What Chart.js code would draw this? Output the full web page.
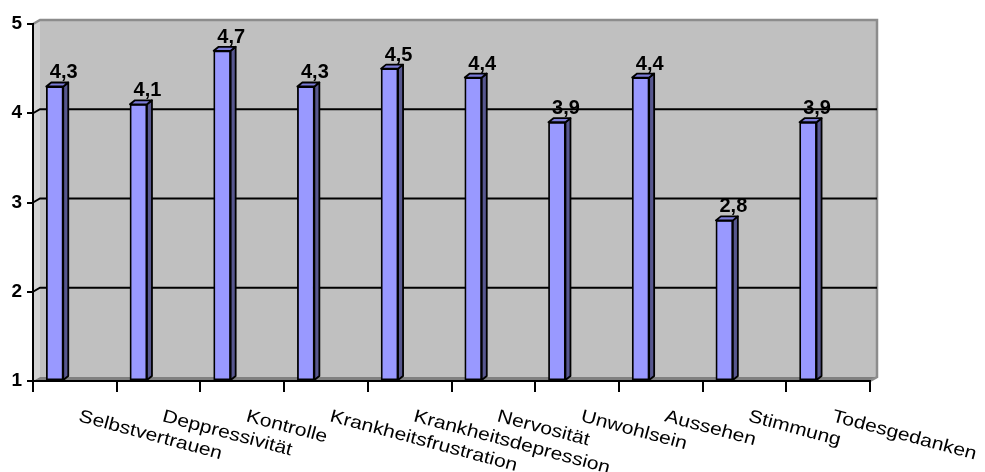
<!DOCTYPE html>
<html><head><meta charset="utf-8">
<script src="https://cdn.jsdelivr.net/npm/chart.js@4/dist/chart.umd.min.js"></script>
<style>html,body{margin:0;padding:0;background:#fff;}#wrap{width:985px;height:472px;position:relative;}</style>
</head><body><div id="wrap"><canvas id="c" width="985" height="472"></canvas></div>
<script>
const categories = ['Selbstvertrauen','Deppressivität','Kontrolle','Krankheitsfrustration','Krankheitsdepression','Nervosität','Unwohlsein','Aussehen','Stimmung','Todesgedanken'];
const values = [4.3, 4.1, 4.7, 4.3, 4.5, 4.4, 3.9, 4.4, 2.8, 3.9];
const yTicks = [1, 2, 3, 4, 5];

const FONT = "Arial, 'Liberation Sans', sans-serif";
const WALL = {dx: 7, dy: -4};
const DEPTH = {dx: 5, dy: -4};

const wallPlugin = {
  id: 'wall',
  beforeDraw(chart) {
    const {ctx, chartArea: a, scales: {y}} = chart;
    const L = a.left, R = a.right, T = a.top, B = a.bottom;
    ctx.save();
    ctx.fillStyle = '#c0c0c0';
    ctx.fillRect(L + WALL.dx, T + WALL.dy, R - L, B - T);
    ctx.fillStyle = '#d2d2d2';
    ctx.beginPath();
    ctx.moveTo(L, T); ctx.lineTo(L + WALL.dx, T + WALL.dy);
    ctx.lineTo(L + WALL.dx, B + WALL.dy); ctx.lineTo(L, B); ctx.closePath(); ctx.fill();
    ctx.fillStyle = '#808080';
    ctx.beginPath();
    ctx.moveTo(L, B); ctx.lineTo(L + WALL.dx, B + WALL.dy);
    ctx.lineTo(R + WALL.dx, B + WALL.dy); ctx.lineTo(R, B); ctx.closePath(); ctx.fill();
    ctx.strokeStyle = '#8c8c8c'; ctx.lineWidth = 2.5;
    ctx.beginPath();
    ctx.moveTo(L, T); ctx.lineTo(L + WALL.dx, T + WALL.dy);
    ctx.lineTo(R + WALL.dx, T + WALL.dy); ctx.lineTo(R + WALL.dx, B + WALL.dy);
    ctx.lineTo(R, B);
    ctx.stroke();
    ctx.strokeStyle = '#000'; ctx.lineWidth = 2;
    yTicks.forEach(v => {
      if (v === yTicks[0] || v === yTicks[yTicks.length - 1]) return;
      const py = y.getPixelForValue(v);
      ctx.beginPath();
      ctx.moveTo(L, py); ctx.lineTo(L + WALL.dx, py + WALL.dy);
      ctx.lineTo(R + WALL.dx, py + WALL.dy);
      ctx.stroke();
    });
    ctx.restore();
  }
};

const shiftPlugin = {
  id: 'shift',
  afterDatasetsUpdate(chart) {
    const xs = chart.scales.x;
    const slot = (xs.right - xs.left) / categories.length;
    chart.getDatasetMeta(0).data.forEach(el => { el.x -= 0.24 * slot; });
  }
};

const bar3dPlugin = {
  id: 'bar3d',
  afterDatasetsDraw(chart) {
    const ctx = chart.ctx;
    ctx.save();
    ctx.lineWidth = 1.8; ctx.strokeStyle = '#000'; ctx.lineJoin = 'round';
    chart.getDatasetMeta(0).data.forEach((el, i) => {
      const l = el.x - el.width / 2, r = el.x + el.width / 2, t = el.y, b = el.base;
      ctx.fillStyle = '#57578f';
      ctx.beginPath();
      ctx.moveTo(r, t); ctx.lineTo(r + DEPTH.dx, t + DEPTH.dy);
      ctx.lineTo(r + DEPTH.dx, b + DEPTH.dy); ctx.lineTo(r, b); ctx.closePath();
      ctx.fill(); ctx.stroke();
      ctx.fillStyle = '#7b7bd8';
      ctx.beginPath();
      ctx.moveTo(l, t); ctx.lineTo(l + DEPTH.dx, t + DEPTH.dy);
      ctx.lineTo(r + DEPTH.dx, t + DEPTH.dy); ctx.lineTo(r, t); ctx.closePath();
      ctx.fill(); ctx.stroke();
      ctx.fillStyle = '#000';
      ctx.font = 'bold 20px ' + FONT;
      ctx.textAlign = 'center'; ctx.textBaseline = 'alphabetic';
      ctx.fillText(String(values[i]).replace('.', ','), el.x + 9, t - 8);
    });
    ctx.restore();
  }
};

const xLabelPlugin = {
  id: 'xlabels',
  afterDraw(chart) {
    const {ctx, scales: {x}, chartArea: a} = chart;
    ctx.save();
    ctx.fillStyle = '#000';
    ctx.font = '18px ' + FONT;
    ctx.textAlign = 'left'; ctx.textBaseline = 'alphabetic';
    categories.forEach((c, i) => {
      const px = x.getPixelForValue(i);
      ctx.save();
      ctx.translate(px + 3, a.bottom + 40);
      ctx.rotate(15 * Math.PI / 180);
      ctx.scale(1.17, 1);
      ctx.fillText(c, 0, 0);
      ctx.restore();
    });
    ctx.restore();
  }
};

new Chart(document.getElementById('c'), {
  type: 'bar',
  data: {
    labels: categories,
    datasets: [{
      data: values,
      base: 1,
      backgroundColor: '#9999ff',
      borderColor: '#000',
      borderWidth: 1.8,
      borderSkipped: false,
      barThickness: 17
    }]
  },
  options: {
    responsive: false,
    animation: false,
    layout: {padding: {top: 24, right: 115, left: 0, bottom: 0}},
    plugins: {legend: {display: false}, tooltip: {enabled: false}},
    scales: {
      x: {
        offset: true,
        grid: {offset: true, drawOnChartArea: false, drawTicks: true, tickLength: 11, color: '#000', lineWidth: 2},
        border: {color: '#000', width: 2},
        ticks: {display: false},
        afterFit(s) { s.height = 91; }
      },
      y: {
        min: yTicks[0], max: yTicks[yTicks.length - 1],
        afterBuildTicks(s) { s.ticks = yTicks.map(v => ({value: v})); },
        grid: {drawOnChartArea: false, drawTicks: true, tickLength: 6, color: '#000', lineWidth: 2},
        border: {color: '#000', width: 2},
        ticks: {color: '#000', font: {family: FONT, size: 19, weight: 'bold'}, padding: 5},
        afterFit(s) { s.width = 33; }
      }
    }
  },
  plugins: [wallPlugin, shiftPlugin, bar3dPlugin, xLabelPlugin]
});
</script></body></html>
